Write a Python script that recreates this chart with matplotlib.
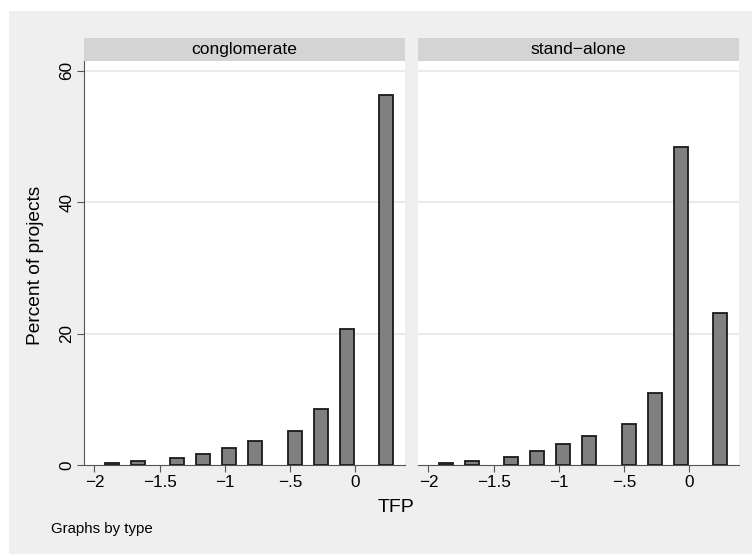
import matplotlib.pyplot as plt
from matplotlib.patches import Rectangle

plt.rcParams['font.family'] = ['Liberation Sans', 'DejaVu Sans']

# TFP bin centres and percent of projects per group
tfp = [-1.865, -1.665, -1.365, -1.165, -0.965, -0.765, -0.462, -0.262, -0.062, 0.24]
conglomerate = [0.26, 0.56, 1.0, 1.67, 2.63, 3.7, 5.1, 8.5, 20.7, 56.4]
stand_alone = [0.26, 0.66, 1.17, 2.09, 3.16, 4.47, 6.3, 10.9, 48.35, 23.1]
panels = ['conglomerate', 'stand\u2212alone']
xticks = [-2, -1.5, -1, -0.5, 0]
xticklabels = ['\u22122', '\u22121.5', '\u22121', '\u2212.5', '0']
yticks = [0, 20, 40, 60]

W, H = 752, 554
fig = plt.figure(figsize=(W / 100, H / 100), dpi=100)
fig.patch.set_facecolor('white')
# outer gray region
fig.patches.append(Rectangle((9 / W, 0), 1, 1 - 11 / H, transform=fig.transFigure,
                             facecolor='#efefef', edgecolor='none', zorder=-10))

lefts = [84, 418]
pw = 321
bottom = (H - 465) / H
ph = 404 / H

for i, (name, vals) in enumerate(zip(panels, [conglomerate, stand_alone])):
    ax = fig.add_axes([lefts[i] / W, bottom, pw / W, ph])
    ax.set_facecolor('white')
    ax.bar(tfp, vals, width=0.105, color='#808080', edgecolor='#1a1a1a',
           linewidth=1.3, zorder=3)
    ax.set_xlim(-2.08, 0.384)
    ax.set_ylim(0, 61.5)
    for y in yticks[1:]:
        ax.axhline(y, color='#e6e6e6', linewidth=1.2, zorder=1)
    for s in ['top', 'right']:
        ax.spines[s].set_visible(False)
    ax.spines['bottom'].set_color('#555555')
    ax.spines['left'].set_color('#555555')
    ax.set_xticks(xticks)
    ax.set_xticklabels(xticklabels, fontsize=12.3)
    ax.tick_params(axis='x', length=5, color='#555555', pad=2)
    if i == 0:
        ax.set_yticks(yticks)
        ax.set_yticklabels([str(y) for y in yticks], fontsize=12.3,
                           rotation=90, va='center')
        ax.tick_params(axis='y', length=5, color='#555555', pad=2)
    else:
        ax.spines['left'].set_visible(False)
        ax.set_yticks([])
    # strip header
    fig.patches.append(Rectangle((lefts[i] / W, (H - 61) / H), pw / W, 23 / H,
                                 transform=fig.transFigure, facecolor='#d4d4d4',
                                 edgecolor='none'))
    fig.text((lefts[i] + pw / 2) / W, (H - 49.5) / H, name, ha='center',
             va='center', fontsize=12.6)

fig.text(36 / W, (H - 265) / H, 'Percent of projects', rotation=90,
         ha='center', va='center', fontsize=13.8)
fig.text(396 / W, (H - 507) / H, 'TFP', ha='center', va='center', fontsize=14)
fig.text(51 / W, (H - 529) / H, 'Graphs by type', ha='left', va='center',
         fontsize=10.8)

fig.savefig('out.png', dpi=100)
